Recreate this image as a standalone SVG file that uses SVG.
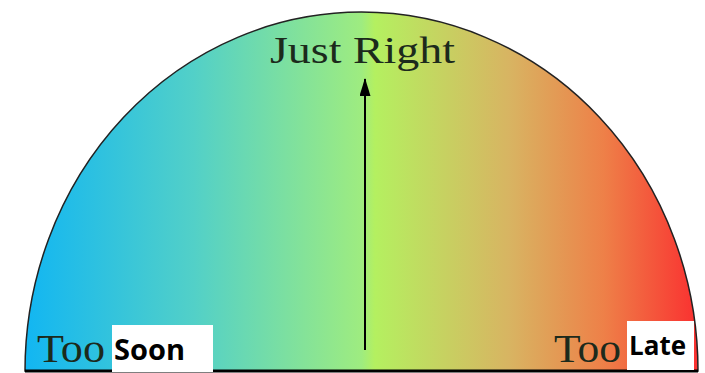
<svg xmlns="http://www.w3.org/2000/svg" width="705" height="373" viewBox="0 0 705 373">
<defs>
<linearGradient id="g" x1="25" y1="0" x2="698" y2="0" gradientUnits="userSpaceOnUse">
<stop offset="0" stop-color="#12b6f2"/>
<stop offset="0.25" stop-color="#52d0c8"/>
<stop offset="0.5" stop-color="#9eec80"/>
<stop offset="0.52" stop-color="#b4f060"/>
<stop offset="0.72" stop-color="#d8b462"/>
<stop offset="0.86" stop-color="#ee8048"/>
<stop offset="1" stop-color="#fa3030"/>
</linearGradient>
<marker id="ah" markerWidth="18" markerHeight="11" refX="17" refY="5.5" orient="auto" markerUnits="userSpaceOnUse" viewBox="0 0 18 11">
<path d="M18 5.5 L0 0 L0 11 Z" fill="#000"/>
</marker>
<style>
.serif{font-family:"Liberation Serif","DejaVu Serif",serif;fill:#1c2a1c}
.box{fill:#fff}
.bold{font-family:"Open Sans","Liberation Sans",sans-serif;font-weight:bold;fill:#000}
</style>
</defs>
<rect width="705" height="373" fill="#fff"/>
<g id="gauge">
<path d="M25 371 A336.5 359 0 0 1 698 371 Z" fill="url(#g)" stroke="#222" stroke-width="1.5"/>
<line x1="25" y1="371" x2="698" y2="371" stroke="#000" stroke-width="3"/>
</g>
<g id="connectors">
<line x1="365" y1="350" x2="365" y2="79" stroke="#000" stroke-width="2" marker-end="url(#ah)"/>
</g>
<g id="just-right">
<text class="serif" x="270" y="63" font-size="37" textLength="185" lengthAdjust="spacingAndGlyphs">Just Right</text>
</g>
<g id="too-soon">
<text class="serif" x="37" y="362" font-size="40" textLength="68" lengthAdjust="spacingAndGlyphs">Too</text>
<rect class="box" x="112" y="325" width="101" height="47"/>
<text class="bold" x="114" y="360" font-size="29">Soon</text>
</g>
<g id="too-late">
<text class="serif" x="554" y="362" font-size="40" textLength="67" lengthAdjust="spacingAndGlyphs">Too</text>
<rect class="box" x="627" y="321" width="67" height="49"/>
<text class="bold" x="629" y="355" font-size="26">Late</text>
</g>
</svg>
